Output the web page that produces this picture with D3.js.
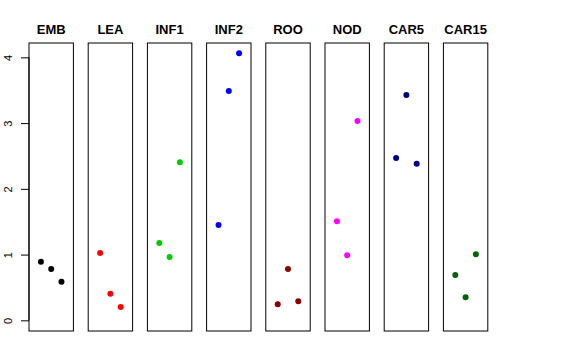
<!DOCTYPE html>
<html><head><meta charset="utf-8">
<script src="https://cdn.jsdelivr.net/npm/d3@7"></script>
<style>body{margin:0;background:#fff}svg{display:block}</style>
</head><body><svg id="c" width="576" height="360"></svg>
<script>
const categories = ["EMB","LEA","INF1","INF2","ROO","NOD","CAR5","CAR15"];
const colors = ["#000000","#FF0000","#00CD00","#0000FF","#8B0000","#FF00FF","#000080","#006400"];
const vals1 = [0.891, 1.024, 1.176, 1.449, 0.243, 1.506, 2.468, 0.689];
const vals2 = [0.780, 0.405, 0.963, 3.487, 0.780, 0.989, 3.427, 0.350];
const vals3 = [0.587, 0.202, 2.403, 4.061, 0.289, 3.031, 2.382, 1.004];
const yTicks = [0, 1, 2, 3, 4];

const svg = d3.select("#c");
const ylim = [0, 4.056], ext = (ylim[1]-ylim[0])*0.04;
const y = d3.scaleLinear().domain([ylim[0]-ext, ylim[1]+ext]).range([331, 43]);
const pw = 44.4, step = 59.2;
const font = "'Liberation Sans', Arial, Helvetica, sans-serif";

categories.forEach((cat, i) => {
  const left = 29 + i*step;
  const x = d3.scaleLinear().domain([-0.16, 4.16]).range([left, left+pw]);
  const g = svg.append("g");
  const pts = [vals1[i], vals2[i], vals3[i]];
  g.selectAll("circle").data(pts).enter().append("circle")
    .attr("cx", (d,j) => x(j+1)).attr("cy", d => y(d)).attr("r", 3)
    .attr("fill", colors[i]);
  g.append("rect").attr("x", left).attr("y", 43).attr("width", pw).attr("height", 288)
    .attr("fill", "none").attr("stroke", "#000").attr("stroke-width", 1);
  g.append("text").attr("x", left + pw/2).attr("y", 34).attr("text-anchor", "middle")
    .attr("font-family", font).attr("font-weight", "bold").attr("font-size", 13).text(cat);
});

const axis = d3.axisLeft(y).tickValues(yTicks).tickSize(8).tickPadding(0).tickFormat(d3.format("d"));
const ag = svg.append("g").attr("transform", "translate(29,0)").call(axis);
ag.select(".domain").attr("d", `M0,${y(0)}V${y(4)}`).attr("stroke","#000");
ag.selectAll(".tick line").attr("stroke","#000");
ag.selectAll(".tick text").attr("font-family", font).attr("font-size", 11).attr("fill","#000")
  .attr("text-anchor","middle").attr("dy", null)
  .attr("transform", "translate(-21,0) rotate(-90)")
  .attr("x", 0).attr("y", 0).attr("dominant-baseline","central");
</script></body></html>
